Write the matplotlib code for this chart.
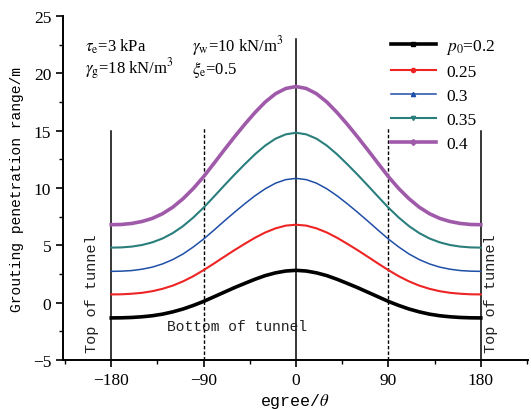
import matplotlib
matplotlib.use("Agg")
import matplotlib.pyplot as plt
from matplotlib.lines import Line2D

# --- dati (ogni 10 gradi, da -180 a 0) ---
theta = list(range(-180, 181, 10))

half_02 = [-1.33, -1.32, -1.29, -1.23, -1.14, -1.00, -0.80, -0.55, -0.24, 0.11,
           0.51, 0.91, 1.31, 1.68, 2.04, 2.36, 2.60, 2.76, 2.82]
half_025 = [0.72, 0.73, 0.78, 0.86, 1.00, 1.21, 1.49, 1.86, 2.31, 2.84,
            3.41, 4.00, 4.58, 5.13, 5.66, 6.12, 6.48, 6.72, 6.80]
half_03 = [2.73, 2.75, 2.80, 2.92, 3.10, 3.38, 3.76, 4.25, 4.86, 5.55,
           6.32, 7.11, 7.88, 8.62, 9.32, 9.93, 10.42, 10.73, 10.84]
half_035 = [4.80, 4.82, 4.89, 5.03, 5.26, 5.60, 6.07, 6.68, 7.43, 8.29,
            9.24, 10.21, 11.16, 12.07, 12.94, 13.70, 14.30, 14.68, 14.82]
half_04 = [6.80, 6.82, 6.91, 7.08, 7.35, 7.76, 8.33, 9.07, 9.96, 10.99,
           12.14, 13.31, 14.45, 15.55, 16.58, 17.50, 18.22, 18.68, 18.85]

# curve simmetriche rispetto a 0
r_02 = half_02 + half_02[-2::-1]
r_025 = half_025 + half_025[-2::-1]
r_03 = half_03 + half_03[-2::-1]
r_035 = half_035 + half_035[-2::-1]
r_04 = half_04 + half_04[-2::-1]

labels = [r"$p_0$=0.2", "0.25", "0.3", "0.35", "0.4"]
series = [r_02, r_025, r_03, r_035, r_04]
colors = ["#000000", "#EE2424", "#1F4EA6", "#2A7E7C", "#A05AAA"]
widths = [2.6, 1.5, 1.1, 1.5, 2.6]
markers = ["s", "o", "^", "v", "D"]

# linee verticali di riferimento
vline_x = [-180, 0, 180]
vline_top = [15.0, 23.0, 15.0]
dash_x = [-90, 90]
dash_top = [15.3, 15.3]

plt.rcParams["font.family"] = ["Liberation Serif", "DejaVu Serif"]
plt.rcParams["mathtext.fontset"] = "stix"

fig = plt.figure(figsize=(5.31, 4.10), dpi=100)
ax = fig.add_axes([0.1186, 0.1195, 0.8758, 0.839])

for x, top in zip(vline_x, vline_top):
    ax.plot([x, x], [-5, top], color="black", lw=1.1, zorder=1)
for x, top in zip(dash_x, dash_top):
    ax.plot([x, x], [-5, top], color="black", lw=1.0, ls=(0, (2.5, 1.5)), zorder=1)

handles = []
for y, c, w, m, lab in zip(series, colors, widths, markers, labels):
    ax.plot(theta, y, color=c, lw=w, zorder=3, solid_joinstyle="round")
    handles.append(Line2D([], [], color=c, lw=w, marker=m, markersize=3, label=lab))

ax.legend(handles=handles, loc="upper left", bbox_to_anchor=(0.671, 0.985),
          frameon=False, fontsize=12.5, handlelength=2.6, handletextpad=0.6,
          labelspacing=0.45)

# --- parametri ---
fs = 12
ax.text(-206, 21.97, r"$\tau_{\mathrm{e}}$=3 kPa", fontsize=fs)
ax.text(-206, 20.05, r"$\gamma_{\mathrm{g}}$=18 kN/m$^3$", fontsize=fs)
ax.text(-101, 21.97, r"$\gamma_{\mathrm{w}}$=10 kN/m$^3$", fontsize=fs)
ax.text(-101, 20.05, r"$\xi_{\mathrm{e}}$=0.5", fontsize=fs)

mono = ["Liberation Mono", "DejaVu Sans Mono"]
ax.text(-198.5, -4.3, "Top of tunnel", rotation=90, ha="center", va="bottom",
        family=mono, fontsize=11, color="#222222")
ax.text(189.7, -4.3, "Top of tunnel", rotation=90, ha="center", va="bottom",
        family=mono, fontsize=11, color="#222222")
ax.text(-126, -2.0, "Bottom of tunnel", ha="left", va="center",
        family=mono, fontsize=10.5, color="#222222")

# --- assi ---
ax.set_xlim(-227, 226)
ax.set_ylim(-5, 25)
ax.set_xticks([-180, -90, 0, 90, 180])
ax.set_xticks([-225, -135, -45, 45, 135, 225], minor=True)
ax.set_yticks([-5, 0, 5, 10, 15, 20, 25])
ax.set_yticks([-2.5, 2.5, 7.5, 12.5, 17.5, 22.5], minor=True)
ax.tick_params(which="major", direction="out", length=5, width=1.2, labelsize=12.5)
ax.tick_params(which="minor", direction="out", length=3, width=1.0)
for s in ["top", "right"]:
    ax.spines[s].set_visible(False)
for s in ["left", "bottom"]:
    ax.spines[s].set_linewidth(1.4)

ax.set_xlabel(r"egree/$\theta$", family=mono, fontsize=12, labelpad=2)
ax.set_ylabel("Grouting penetration range/m", family=mono, fontsize=10.5, labelpad=6)

fig.savefig("out.png", dpi=100)
